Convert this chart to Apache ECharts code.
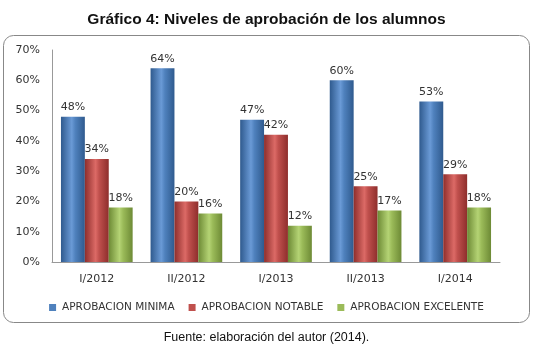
<!DOCTYPE html>
<html><head><meta charset="utf-8">
<script src="https://cdn.jsdelivr.net/npm/echarts@6/dist/echarts.min.js"></script>
<style>html,body{margin:0;padding:0;background:#fff;}#c{width:533px;height:348px;}</style>
</head><body><div id="c"></div>
<script>
const categories = ['I/2012','II/2012','I/2013','II/2013','I/2014'];
const minima = [48,64,47,60,53];
const notable = [34,20,42,25,29];
const excelente = [18,16,12,17,18];
const seriesNames = ['APROBACION MINIMA','APROBACION NOTABLE','APROBACION EXCELENTE'];
const yTicks = [0,10,20,30,40,50,60,70];

function grad(dark, mid, light){
  return new echarts.graphic.LinearGradient(0,0,1,0,[
    {offset:0,color:dark},{offset:0.45,color:light},{offset:0.6,color:mid},{offset:1,color:dark}]);
}
const colors = [
  grad('#2f5a8e','#4f81bd','#6a9ad6'),
  grad('#8e2e2c','#c0504d','#dc6a66'),
  grad('#6d8a35','#9bbb59','#b4d374')
];
const legendColors = ['#4f81bd','#c0504d','#9bbb59'];
const font = 'DejaVu Sans';
const chart = echarts.init(document.getElementById('c'));
function mk(name, data, i){
  return {name, type:'bar', data, barGap:'0%', barCategoryGap:'20%',
    itemStyle:{color:colors[i]},
    label:{show:true,position:'top',formatter:'{c}%',color:'#333',fontFamily:font,fontSize:11,distance:4},
    emphasis:{disabled:true}};
}
chart.setOption({
  animation:false,
  title:{text:'Gráfico 4: Niveles de aprobación de los alumnos',left:'center',top:7,
    textStyle:{fontFamily:'Liberation Sans',fontSize:15.5,fontWeight:'bold',color:'#111'}},
  graphic:[
    {type:'rect',shape:{x:3.5,y:35.5,width:526,height:287,r:10},style:{fill:'none',stroke:'#888',lineWidth:1}},
    {type:'text',left:'center',top:331,style:{text:'Fuente: elaboración del autor (2014).',font:'12.5px Liberation Sans',fill:'#111'}}
  ],
  legend:{bottom:30,left:'center',itemWidth:7,itemHeight:7,itemGap:14,icon:'rect',
    textStyle:{fontFamily:font,fontSize:10.5,color:'#333',padding:[0,0,0,1]},
    data:seriesNames.map((n,i)=>({name:n,itemStyle:{color:legendColors[i]}}))},
  grid:{left:52,right:33,top:50,bottom:86,containLabel:false},
  xAxis:{type:'category',data:categories,
    axisLine:{lineStyle:{color:'#999'}},axisTick:{show:false},
    axisLabel:{fontFamily:font,fontSize:11,color:'#333',margin:12}},
  yAxis:{type:'value',min:0,max:70,interval:10,
    axisLine:{show:true,lineStyle:{color:'#999'}},axisTick:{show:false},splitLine:{show:false},
    axisLabel:{formatter:v=>v+'%',fontFamily:font,fontSize:11,color:'#333',margin:12}},
  series:[mk(seriesNames[0],minima,0),mk(seriesNames[1],notable,1),mk(seriesNames[2],excelente,2)]
});
</script></body></html>
